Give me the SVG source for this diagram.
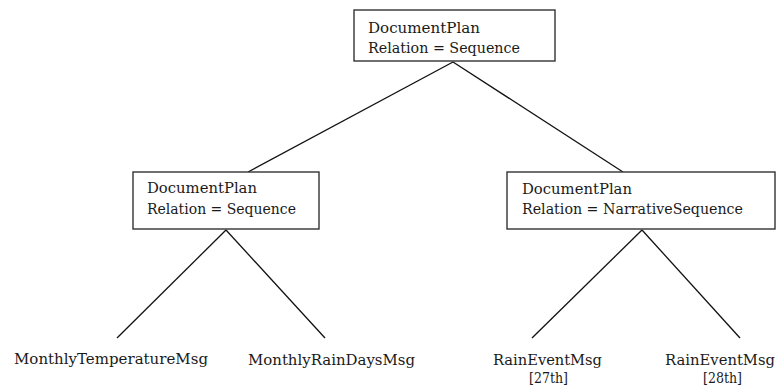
<svg xmlns="http://www.w3.org/2000/svg" width="778" height="387" viewBox="0 0 778 387">
<style>
  .box { fill: #ffffff; stroke: #333333; stroke-width: 1.4; }
  .edge { stroke: #111111; stroke-width: 1.3; fill: none; }
  text { font-family: "DejaVu Serif", "Liberation Serif", serif; font-size: 14px; fill: #1a1a1a; }
</style>
<rect width="778" height="387" fill="#ffffff"/>
<g id="connectors">
  <line class="edge" x1="453" y1="62" x2="248" y2="172"/>
  <line class="edge" x1="453" y1="62" x2="623" y2="172"/>
  <line class="edge" x1="226" y1="230" x2="117" y2="338"/>
  <line class="edge" x1="226" y1="230" x2="325" y2="338"/>
  <line class="edge" x1="642" y1="230" x2="532" y2="338"/>
  <line class="edge" x1="642" y1="230" x2="740" y2="338"/>
</g>
<g id="root">
  <rect class="box" x="354" y="10" width="201" height="51"/>
  <text x="368" y="33" textLength="112" lengthAdjust="spacingAndGlyphs">DocumentPlan</text>
  <text x="368" y="53" textLength="152" lengthAdjust="spacingAndGlyphs">Relation = Sequence</text>
</g>
<g id="plan-left">
  <rect class="box" x="133" y="172" width="186" height="57"/>
  <text x="147" y="193" textLength="110" lengthAdjust="spacingAndGlyphs">DocumentPlan</text>
  <text x="147" y="214" textLength="149" lengthAdjust="spacingAndGlyphs">Relation = Sequence</text>
</g>
<g id="plan-right">
  <rect class="box" x="507" y="172" width="268" height="57"/>
  <text x="522" y="194" textLength="110" lengthAdjust="spacingAndGlyphs">DocumentPlan</text>
  <text x="522" y="214" textLength="221" lengthAdjust="spacingAndGlyphs">Relation = NarrativeSequence</text>
</g>
<g id="leaf-temperature">
  <text x="14" y="364" textLength="194" lengthAdjust="spacingAndGlyphs">MonthlyTemperatureMsg</text>
</g>
<g id="leaf-raindays">
  <text x="248" y="365" textLength="167" lengthAdjust="spacingAndGlyphs">MonthlyRainDaysMsg</text>
</g>
<g id="leaf-rain27">
  <text x="493" y="365" textLength="109" lengthAdjust="spacingAndGlyphs">RainEventMsg</text>
  <text x="529" y="383" textLength="39" lengthAdjust="spacingAndGlyphs">[27th]</text>
</g>
<g id="leaf-rain28">
  <text x="665" y="365" textLength="110" lengthAdjust="spacingAndGlyphs">RainEventMsg</text>
  <text x="703" y="383" textLength="39" lengthAdjust="spacingAndGlyphs">[28th]</text>
</g>
</svg>
